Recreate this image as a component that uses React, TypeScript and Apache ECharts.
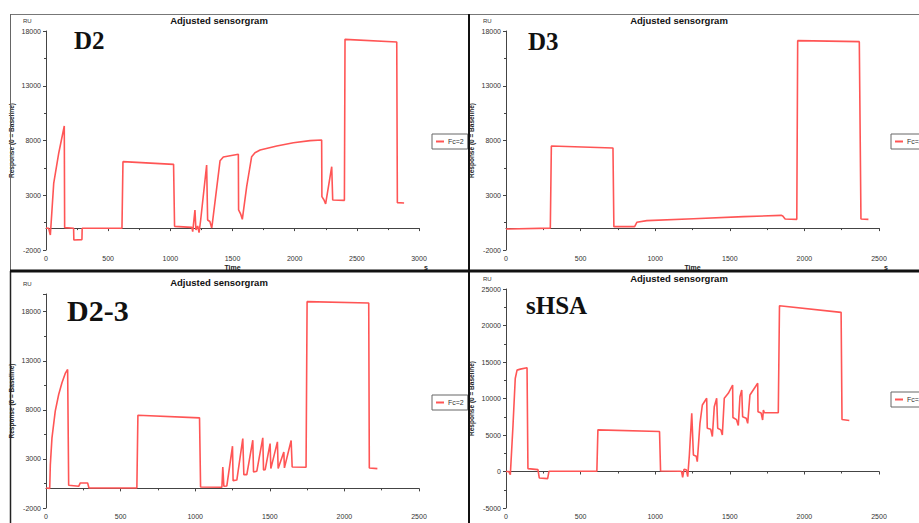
import React, { useEffect, useRef } from "react";
import * as echarts from "echarts";

// [time (s), response (RU)]
const d2Points: [number, number][] = [
  [0, 0], [21, -20], [35, -630], [62, 4088], [102, 6828], [147, 9324], [150, 40], [222, -20], [224, -1087],
  [289, -1050], [291, -20], [611, -20], [619, 6067], [1026, 5824], [1034, 161], [1173, 70], [1180, -330],
  [1198, 1654], [1206, -170], [1220, 190], [1231, -420], [1244, 740], [1292, 5763], [1300, 741], [1318, 600],
  [1333, 10], [1338, 440], [1400, 6155], [1426, 6494], [1547, 6740], [1549, 1654], [1565, 1300], [1579, 805],
  [1614, 3782], [1654, 6522], [1681, 6889], [1722, 7130], [1856, 7500], [1990, 7800], [2124, 7990],
  [2217, 8046], [2219, 2870], [2236, 2567], [2249, 2202], [2298, 5608], [2306, 2567], [2400, 2536],
  [2405, 17239], [2821, 16995], [2826, 2323], [2880, 2290],
];
const d3Points: [number, number][] = [
  [0, -80], [297, 0], [304, 7498], [717, 7315], [723, 131], [862, 131], [877, 530], [944, 680], [1257, 860],
  [1592, 1044], [1844, 1166], [1855, 1105], [1871, 830], [1949, 800], [1955, 17117], [2368, 17026], [2379, 830],
  [2429, 800],
];
const d23Points: [number, number][] = [
  [0, 41], [25, 0], [29, 2422], [40, 5143], [62, 7864], [85, 9565], [107, 10755], [129, 11707], [145, 12116],
  [152, 313], [219, 210], [230, 550], [279, 550], [288, 41], [609, 41], [616, 7456], [1029, 7184], [1036, 143],
  [1179, 109], [1185, 2183], [1192, 210], [1212, 245], [1250, 4293], [1254, 789], [1279, 850], [1319, 5075],
  [1326, 1401], [1346, 1401], [1386, 4905], [1391, 1673], [1413, 1750], [1453, 5143], [1458, 1878], [1469, 1900],
  [1502, 4565], [1507, 2014], [1551, 4735], [1556, 2014], [1594, 3714], [1598, 2082], [1643, 4871], [1650, 2184],
  [1743, 2150], [1750, 19020], [2163, 18884], [2167, 2082], [2221, 2014],
];
const shsaPoints: [number, number][] = [
  [0, 0], [18, 0], [29, -430], [47, 6342], [62, 12744], [74, 13887], [96, 14025], [141, 14207], [147, 396],
  [214, 260], [223, -885], [279, -975], [288, 31], [609, 31], [616, 5701], [1029, 5473], [1036, 77], [1167, 31],
  [1177, 0], [1184, -800], [1193, 300], [1208, 250], [1218, -700], [1229, 2260], [1245, 7970], [1256, 2260],
  [1275, 2100], [1282, 1340], [1300, 6600], [1316, 9110], [1345, 10030], [1349, 5920], [1372, 5800],
  [1383, 4795], [1396, 8880], [1412, 10030], [1419, 5920], [1440, 5700], [1450, 5000], [1463, 10030],
  [1490, 10710], [1519, 11850], [1521, 7400], [1545, 7100], [1557, 6300], [1568, 10250], [1580, 11160],
  [1586, 7500], [1610, 7300], [1620, 6600], [1635, 10480], [1687, 12080], [1689, 8190], [1710, 8000],
  [1720, 7055], [1725, 8425], [1732, 8050], [1825, 8050], [1833, 22713], [2246, 21799], [2252, 7119],
  [2301, 6982],
];

const panelLabels = ["D2", "D3", "D2-3", "sHSA"];
const xMaxes = [3000, 2500, 2500, 2500];
const yMins = [-2000, -2000, -2000, -5000];
const yMaxes = [18000, 18000, 19800, 25000];
const yIntervals = [5000, 5000, 5000, 5000];
const xInterval = 500;
const legendName = "Fc=2";
const titleText = "Adjusted sensorgram";
const yName = "Response (0 = Baseline)";
const xName = "Time";

export default function App() {
  const ref = useRef<HTMLDivElement>(null);
  useEffect(() => {
    if (!ref.current) return;
    const chart = echarts.init(ref.current, undefined, { renderer: "svg" });
    const grids = [
      { left: 46, top: 31, width: 373, height: 219 },
      { left: 506, top: 31, width: 373, height: 219 },
      { left: 46, top: 294, width: 373, height: 214 },
      { left: 506, top: 289, width: 373, height: 219 },
    ];
    const datasets = [d2Points, d3Points, d23Points, shsaPoints];
    const axisColor = "#444";
    const labelStyle = { fontSize: 7, color: "#333", fontFamily: "Arial" };
    const fmt = (v: number) => String(v);

    const xAxis = grids.map((_, i) => ({
      type: "value",
      gridIndex: i,
      min: 0,
      max: xMaxes[i],
      interval: xInterval,
      name: xName,
      nameLocation: "middle",
      nameGap: 14,
      nameTextStyle: { fontSize: 7, fontWeight: "bold", color: "#222", fontFamily: "Arial" },
      axisLine: { show: true, lineStyle: { color: axisColor, width: 1 } },
      axisTick: { show: true, length: 3, lineStyle: { color: axisColor } },
      minorTick: { show: true, splitNumber: 2, length: 2, lineStyle: { color: axisColor } },
      splitLine: { show: false },
      axisLabel: { ...labelStyle, margin: 5, formatter: fmt },
    }));
    const yAxis = grids.map((_, i) => ({
      type: "value",
      gridIndex: i,
      min: yMins[i],
      max: yMaxes[i],
      interval: yIntervals[i],
      name: yName,
      nameLocation: "middle",
      nameGap: 31,
      nameTextStyle: { fontSize: 6.5, fontWeight: "bold", color: "#222", fontFamily: "Arial" },
      axisLine: { show: true, lineStyle: { color: axisColor, width: 1 } },
      axisTick: { show: true, length: 3, lineStyle: { color: axisColor } },
      minorTick: { show: true, splitNumber: 2, length: 2, lineStyle: { color: axisColor } },
      splitLine: { show: false },
      axisLabel: { ...labelStyle, margin: 5, formatter: fmt, showMaxLabel: i !== 2 },
    }));
    const series = datasets.map((d, i) => ({
      type: "line",
      name: legendName,
      xAxisIndex: i,
      yAxisIndex: i,
      data: d,
      symbol: "none",
      lineStyle: { color: "#ff5555", width: 1.6 },
      itemStyle: { color: "#ff5555" },
    }));
    const legendPos = [
      { left: 432, top: 134 },
      { left: 891, top: 134 },
      { left: 432, top: 395 },
      { left: 891, top: 392 },
    ];
    const legend = legendPos.map((p) => ({
      ...p,
      data: [legendName],
      orient: "vertical",
      borderColor: "#666",
      borderWidth: 1,
      padding: [4, 4, 4, 4],
      itemWidth: 8,
      itemHeight: 2,
      itemGap: 4,
      icon: "rect",
      textStyle: { fontSize: 7, color: "#333", fontFamily: "Arial", padding: [0, 0, 0, -1] },
      selectedMode: false,
    }));

    const titlePos = [
      [219, 20], [679, 20], [219, 282], [679, 278],
    ];
    const ruPos = [
      [23, 21], [483, 21], [23, 284], [483, 279],
    ];
    const sPos = [
      [426, 267], [886, 267],
    ];
    const bigPos = [
      [74, 40, 25], [528, 41, 25], [67, 310, 30], [526, 305, 25],
    ];

    const graphic: any[] = [];
    titlePos.forEach(([x, y]) =>
      graphic.push({
        type: "text", x, y, z: 50,
        style: { text: titleText, align: "center", verticalAlign: "middle", fontSize: 9.5, fontWeight: "bold", fontFamily: "Arial", fill: "#111" },
      })
    );
    ruPos.forEach(([x, y]) =>
      graphic.push({
        type: "text", x, y, z: 50,
        style: { text: "RU", align: "left", verticalAlign: "middle", fontSize: 6, fontFamily: "Arial", fill: "#333" },
      })
    );
    sPos.forEach(([x, y]) =>
      graphic.push({
        type: "text", x, y, z: 50,
        style: { text: "s", align: "center", verticalAlign: "middle", fontSize: 7, fontWeight: "bold", fontFamily: "Arial", fill: "#222" },
      })
    );
    bigPos.forEach(([x, y, fs], i) =>
      graphic.push({
        type: "text", x, y, z: 50,
        style: { text: panelLabels[i], align: "left", verticalAlign: "middle", fontSize: fs, fontWeight: "bold", fontFamily: "Liberation Serif", fill: "#111" },
      })
    );
    // panel frames
    graphic.push(
      { type: "line", z: 60, shape: { x1: 10, y1: 14.5, x2: 919, y2: 14.5 }, style: { stroke: "#777", lineWidth: 1 } },
      { type: "line", z: 60, shape: { x1: 10.5, y1: 14, x2: 10.5, y2: 271 }, style: { stroke: "#666", lineWidth: 1 } },
      { type: "line", z: 60, shape: { x1: 10.5, y1: 271, x2: 10.5, y2: 523 }, style: { stroke: "#222", lineWidth: 1.5 } },
      { type: "line", z: 60, shape: { x1: 10, y1: 271, x2: 919, y2: 271 }, style: { stroke: "#111", lineWidth: 3 } },
      { type: "line", z: 60, shape: { x1: 469, y1: 14, x2: 469, y2: 523 }, style: { stroke: "#111", lineWidth: 2 } }
    );

    chart.setOption({
      animation: false,
      backgroundColor: "#fff",
      grid: grids.map((g) => ({ ...g, containLabel: false, outerBoundsMode: "none" })),
      xAxis,
      yAxis,
      series,
      legend,
      graphic,
    });
    return () => chart.dispose();
  }, []);
  return <div ref={ref} style={{ position: "fixed", left: 0, top: 0, width: 919, height: 523 }} />;
}
